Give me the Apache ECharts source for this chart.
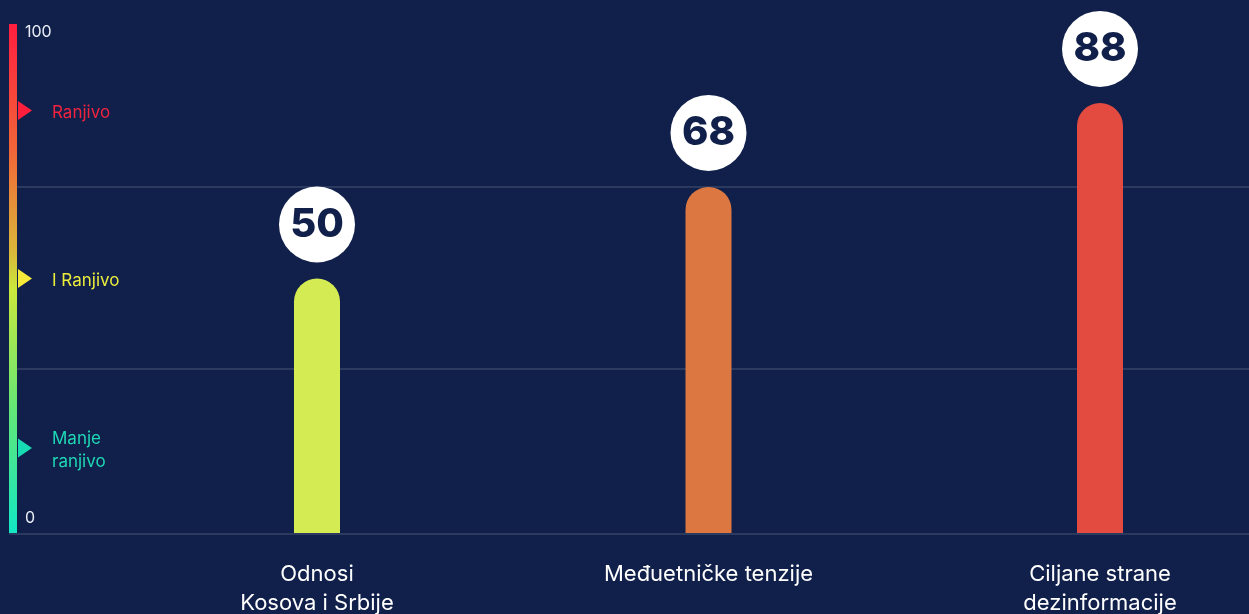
<!DOCTYPE html>
<html>

<head>
  <meta charset="UTF-8" />
  <title></title>
  <style type="text/css">
    * {
      margin: 0;
      padding: 0;
    }
    body {
      background-color: #10204a;
    }
    #main {
      width: 1249px;
      height: 614px;
    }
  </style>
</head>

<body>
  <div id="main"></div>
</body>
<script src="https://cdn.jsdelivr.net/npm/echarts@6/dist/echarts.min.js"></script>
<script type="text/javascript">
  // kategorije i vrijednosti
  let categories = ['Odnosi\nKosova i Srbije', 'Međuetničke tenzije', 'Ciljane strane\ndezinformacije']
  let barValues = [50, 68, 84.5]     // visina stupca kako je nacrtana
  let scoreLabels = [50, 68, 88]     // broj u krugu
  let barColors = ['#d4eb53', '#dc7742', '#e34b40']

  // skala lijevo
  let scaleTicks = [0, 100]
  let levelNames = ['Ranjivo', 'I Ranjivo', 'Manje\nranjivo']
  let levelValues = [83, 50, 16.7]
  let levelMarkColors = ['#ff1f3d', '#f6ea3a', '#17dbb3']
  let levelTextColors = ['#f2223f', '#ecec3c', '#1fd8b6']
  let guideLines = [0, 32.5, 68.1]

  let myChart = echarts.init(document.getElementById('main'))

  let option = {
    backgroundColor: '#10204a',
    textStyle: { fontFamily: 'Inter' },
    grid: [
      { left: 317, right: 149, top: 24, bottom: 81, outerBoundsMode: 'none' },
      { left: 9, width: 8, top: 24, bottom: 81, outerBoundsMode: 'none' },
      { left: 9, right: 0, top: 24, bottom: 80, outerBoundsMode: 'none' }
    ],
    xAxis: [{
      type: 'category',
      gridIndex: 0,
      data: categories,
      boundaryGap: false,
      axisLine: { show: false },
      axisTick: { show: false },
      axisLabel: {
        color: '#ffffff',
        fontSize: 22,
        lineHeight: 29,
        margin: 27
      }
    }, {
      type: 'category',
      gridIndex: 1,
      data: [''],
      show: false
    }, {
      type: 'value',
      gridIndex: 2,
      min: 0,
      max: 1,
      show: false
    }],
    yAxis: [{
      type: 'value',
      gridIndex: 0,
      min: 0,
      max: 100,
      show: false
    }, {
      type: 'value',
      gridIndex: 1,
      min: scaleTicks[0],
      max: scaleTicks[1],
      interval: 100,
      axisLine: { show: false },
      axisTick: { show: false },
      splitLine: { show: false },
      axisLabel: {
        inside: true,
        margin: 16,
        color: '#e9edf6',
        fontSize: 16,
        formatter: v => v === scaleTicks[1] ? '{t|' + v + '}' : '{b|' + v + '}',
        rich: {
          t: { fontSize: 16, padding: [16, 0, 0, 0] },
          b: { fontSize: 16, padding: [0, 0, 30, 0] }
        }
      }
    }, {
      type: 'value',
      gridIndex: 2,
      min: 0,
      max: 100,
      show: false
    }],
    series: [{
      // linije mreže
      type: 'line',
      xAxisIndex: 2,
      yAxisIndex: 2,
      data: [],
      z: 0,
      markLine: {
        silent: true,
        z: 0,
        symbol: 'none',
        label: { show: false },
        lineStyle: { color: '#2c3a60', width: 2, type: 'solid' },
        data: guideLines.map(v => ({ yAxis: v }))
      }
    }, {
      type: 'bar',
      xAxisIndex: 0,
      yAxisIndex: 0,
      barWidth: 46,
      z: 3,
      data: barValues.map((v, i) => ({
        value: v,
        itemStyle: { color: barColors[i], borderRadius: [23, 23, 0, 0] }
      })),
      label: {
        show: true,
        position: 'top',
        distance: 16,
        formatter: p => scoreLabels[p.dataIndex],
        backgroundColor: '#ffffff',
        width: 76,
        height: 76,
        lineHeight: 76,
        borderRadius: 38,
        align: 'center',
        color: '#10204a',
        fontSize: 40,
        fontWeight: 800
      }
    }, {
      // gradijent skala
      type: 'bar',
      xAxisIndex: 1,
      yAxisIndex: 1,
      barWidth: 8,
      silent: true,
      z: 2,
      data: [scaleTicks[1]],
      itemStyle: {
        color: new echarts.graphic.LinearGradient(0, 0, 0, 1, [
          { offset: 0, color: '#ff1e3f' },
          { offset: 0.25, color: '#f16638' },
          { offset: 0.45, color: '#dab83a' },
          { offset: 0.52, color: '#cce83c' },
          { offset: 0.75, color: '#66e674' },
          { offset: 1, color: '#12e8c4' }
        ])
      }
    }, {
      type: 'scatter',
      xAxisIndex: 1,
      yAxisIndex: 1,
      symbol: 'triangle',
      symbolSize: [19, 14],
      symbolRotate: -90,
      symbolOffset: [12, 0],
      silent: true,
      z: 4,
      data: levelValues.map((v, i) => ({
        value: [0, v],
        name: levelNames[i],
        itemStyle: { color: levelMarkColors[i], opacity: 1 },
        label: { color: levelTextColors[i] }
      })),
      label: {
        show: true,
        position: 'right',
        distance: 20,
        offset: [0, 2],
        formatter: p => p.name,
        fontSize: 17,
        lineHeight: 23,
        align: 'left'
      }
    }]
  }

  myChart.setOption(option)
</script>

</html>
